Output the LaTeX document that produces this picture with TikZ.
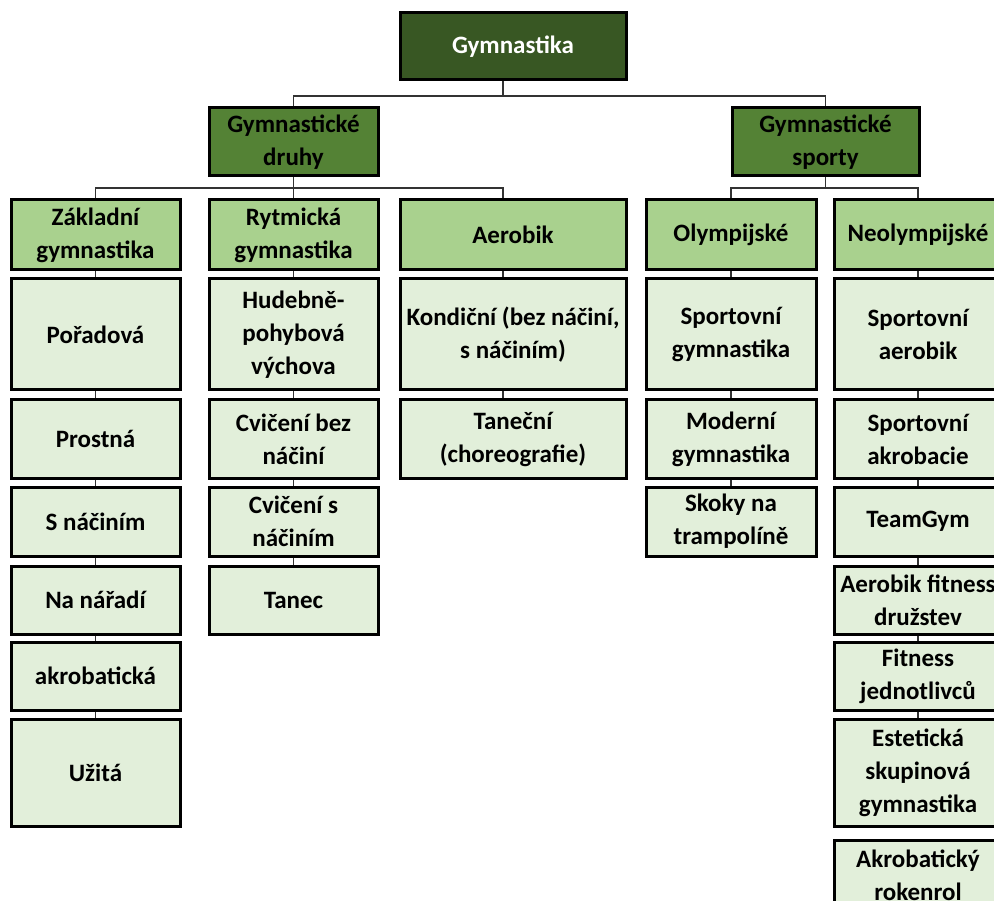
\documentclass[tikz,border=0pt]{standalone}
\usepackage{fontspec}
\setmainfont{Carlito}
\definecolor{topgreen}{HTML}{385723}
\definecolor{midgreen}{HTML}{548235}
\definecolor{catgreen}{HTML}{A9D18E}
\definecolor{leafgreen}{HTML}{E2EFDA}
\tikzset{
  box/.style={draw=black, line width=3pt, align=center, inner sep=0pt,
    font=\fontsize{25}{33}\selectfont\bfseries, text=black},
  topbox/.style={box, fill=topgreen, text=white},
  midbox/.style={box, fill=midgreen},
  catbox/.style={box, fill=catgreen},
  leafbox/.style={box, fill=leafgreen},
  conn/.style={draw=black!80, line width=1.4pt}
}
\newcommand{\bx}[7]{\node[#6, minimum width={#4-#2}, minimum height={#5-#3}] (#1) at ({(#2+#4)/2},{(#3+#5)/2}) {#7};}
\begin{document}
\begin{tikzpicture}[x=1pt,y=-1pt]
\useasboundingbox (0,0) rectangle (994,901);
\clip (0,0) rectangle (994,901);
\fill[white] (0,0) rectangle (994,901);
% level 1
\bx{gym}{400}{13}{626}{80}{topbox}{Gymnastika}
% level 2
\bx{druhy}{209}{108}{378}{176}{midbox}{Gymnastické\\druhy}
\bx{sporty}{732}{108}{919}{176}{midbox}{Gymnastické\\sporty}
% level 3
\bx{zakl}{11}{200}{180}{270}{catbox}{Základní\\gymnastika}
\bx{rytm}{209}{200}{378}{270}{catbox}{Rytmická\\gymnastika}
\bx{aer}{400}{200}{626}{270}{catbox}{Aerobik}
\bx{olym}{646}{200}{816}{270}{catbox}{Olympijské}
\bx{neol}{834}{200}{1002}{270}{catbox}{Neolympijské}
% column 1
\bx{por}{11}{279}{180}{390}{leafbox}{Pořadová}
\bx{pros}{11}{400}{180}{478}{leafbox}{Prostná}
\bx{snac}{11}{487}{180}{556}{leafbox}{S náčiním}
\bx{nar}{11}{566}{180}{634}{leafbox}{Na nářadí}
\bx{akro}{11}{642}{180}{710}{leafbox}{akrobatická}
\bx{uzi}{11}{719}{180}{826}{leafbox}{Užitá}
% column 2
\bx{hud}{209}{279}{378}{390}{leafbox}{Hudebně-\\pohybová\\výchova}
\bx{cbez}{209}{400}{378}{478}{leafbox}{Cvičení bez\\náčiní}
\bx{csn}{209}{487}{378}{556}{leafbox}{Cvičení s\\náčiním}
\bx{tan}{209}{566}{378}{634}{leafbox}{Tanec}
% column 3
\bx{kond}{400}{279}{626}{390}{leafbox}{Kondiční (bez náčiní,\\s náčiním)}
\bx{tanc}{400}{400}{626}{478}{leafbox}{Taneční\\(choreografie)}
% column 4
\bx{sgym}{646}{279}{816}{390}{leafbox}{Sportovní\\gymnastika}
\bx{mgym}{646}{400}{816}{478}{leafbox}{Moderní\\gymnastika}
\bx{skok}{646}{487}{816}{556}{leafbox}{Skoky na\\trampolíně}
% column 5
\bx{saer}{834}{279}{1002}{390}{leafbox}{Sportovní\\aerobik}
\bx{sakr}{834}{400}{1002}{478}{leafbox}{Sportovní\\akrobacie}
\bx{team}{834}{487}{1002}{556}{leafbox}{TeamGym}
\bx{afit}{834}{566}{1002}{634}{leafbox}{Aerobik fitness\\družstev}
\bx{fit}{834}{642}{1002}{710}{leafbox}{Fitness\\jednotlivců}
\bx{est}{834}{719}{1002}{826}{leafbox}{Estetická\\skupinová\\gymnastika}
\bx{rock}{834}{840}{1002}{910}{leafbox}{Akrobatický\\rokenrol}
% connector helper coordinates
\coordinate (jg) at (503,96);
\coordinate (jd) at (293.5,188);
\coordinate (ja) at (503,188);
\coordinate (js) at (825.5,188);
% tree connectors
\draw[conn] (gym.south -| jg) -- (jg);
\draw[conn] (druhy.north) |- (jg) -| (sporty.north);
\draw[conn] (druhy.south) -- (jd);
\draw[conn] (zakl.north) |- (jd) -| (rytm.north);
\draw[conn] (jd) -- (ja) -- (aer.north -| ja);
\draw[conn] (sporty.south) -- (js);
\draw[conn] (olym.north) |- (js) -| (neol.north);
% column connectors
\foreach \a/\b in {zakl/por,por/pros,pros/snac,snac/nar,nar/akro,akro/uzi,
  rytm/hud,hud/cbez,cbez/csn,csn/tan,
  olym/sgym,sgym/mgym,mgym/skok,
  neol/saer,saer/sakr,sakr/team,team/afit,afit/fit,fit/est}
  \draw[conn] (\a.south) -- (\b.north);
\draw[conn] (aer.south -| ja) -- (kond.north -| ja);
\draw[conn] (kond.south -| ja) -- (tanc.north -| ja);
\end{tikzpicture}
\end{document}
